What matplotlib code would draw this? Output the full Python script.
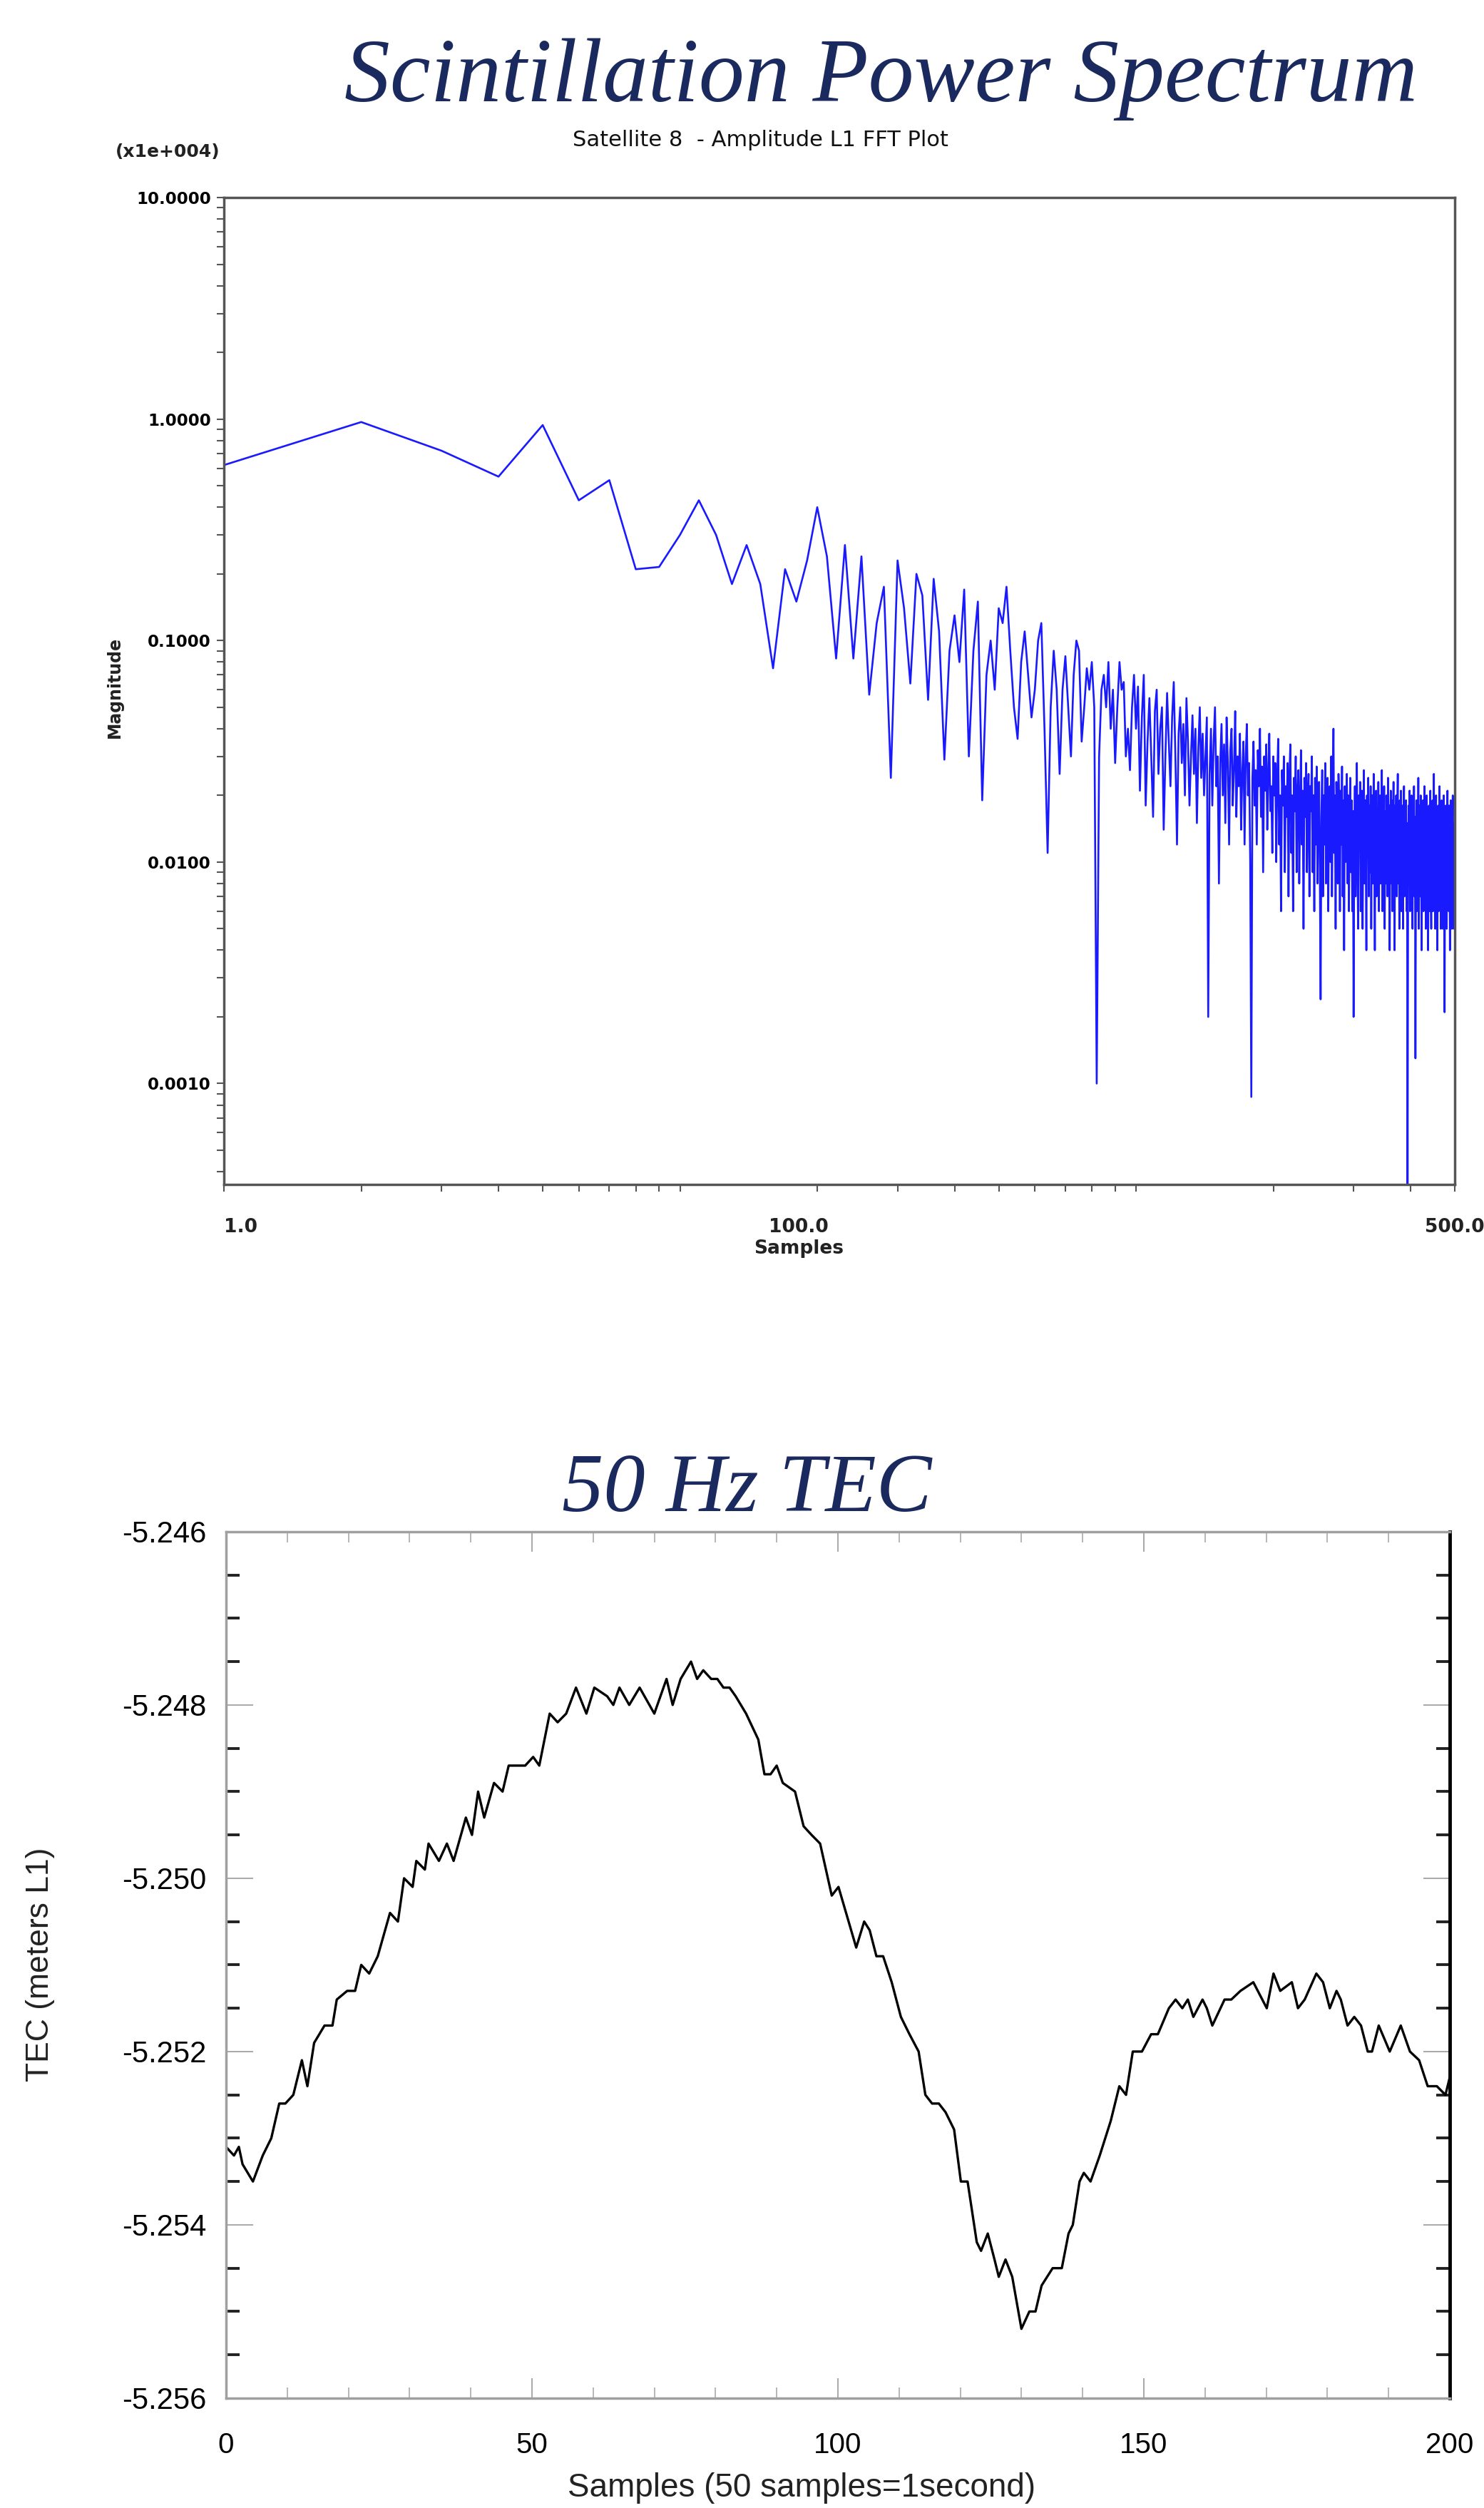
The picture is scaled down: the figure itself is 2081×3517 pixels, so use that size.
import numpy as np
import matplotlib
matplotlib.use('Agg')
import matplotlib.pyplot as plt
from matplotlib.ticker import FixedLocator, FixedFormatter, LogLocator, NullFormatter, MultipleLocator

plt.rcParams['axes.unicode_minus'] = False
plt.rcParams['font.family'] = ['DejaVu Sans']

# ---- FFT spectrum (top) ----
spec_dc = 10.0
spec_bins = np.arange(1, 501)
spec_mag = [
    0.62, 0.97, 0.72, 0.55, 0.94, 0.43, 0.53, 0.21, 0.215, 0.30,
    0.43, 0.30, 0.18, 0.27, 0.18, 0.075, 0.21, 0.15, 0.23, 0.40,
    0.24, 0.083, 0.27, 0.083, 0.24, 0.057, 0.12, 0.175, 0.024, 0.23,
    0.14, 0.064, 0.20, 0.16, 0.054, 0.19, 0.11, 0.029, 0.09, 0.13,
    0.08, 0.17, 0.03, 0.09, 0.15, 0.019, 0.07, 0.10, 0.06, 0.14,
    0.12, 0.175, 0.09, 0.05, 0.036, 0.08, 0.11, 0.07, 0.045, 0.06,
    0.10, 0.12, 0.04, 0.011, 0.05, 0.09, 0.06, 0.025, 0.06, 0.085,
    0.05, 0.03, 0.07, 0.10, 0.09, 0.035, 0.05, 0.075, 0.06, 0.08,
    0.05, 0.001, 0.03, 0.06, 0.07, 0.05, 0.08, 0.04, 0.06, 0.028,
    0.05, 0.08, 0.06, 0.065, 0.03, 0.04, 0.026, 0.05, 0.07, 0.04,
    0.062, 0.021, 0.045, 0.07, 0.018, 0.035, 0.055, 0.03, 0.016, 0.048,
    0.06, 0.025, 0.04, 0.05, 0.014, 0.03, 0.058, 0.035, 0.022, 0.045,
    0.065, 0.03, 0.012, 0.038, 0.05, 0.028, 0.042, 0.02, 0.055, 0.035,
    0.018, 0.03, 0.046, 0.025, 0.04, 0.015, 0.033, 0.05, 0.024, 0.038,
    0.02, 0.03, 0.045, 0.002, 0.025, 0.04, 0.018, 0.035, 0.05, 0.022,
    0.03, 0.008, 0.028, 0.042, 0.02, 0.034, 0.015, 0.045, 0.028, 0.012,
    0.032, 0.04, 0.018, 0.026, 0.048, 0.016, 0.03, 0.022, 0.038, 0.014,
    0.025, 0.035, 0.012, 0.03, 0.042, 0.02, 0.028, 0.01, 0.00087, 0.024,
    0.035, 0.018, 0.026, 0.012, 0.032, 0.022, 0.04, 0.016, 0.027, 0.009,
    0.03, 0.021, 0.034, 0.014, 0.025, 0.038, 0.017, 0.022, 0.011, 0.03,
    0.02, 0.028, 0.01, 0.024, 0.036, 0.012, 0.02, 0.006, 0.026, 0.018,
    0.03, 0.009, 0.022, 0.016, 0.028, 0.007, 0.025, 0.034, 0.011, 0.02,
    0.006, 0.024, 0.017, 0.03, 0.009, 0.02, 0.026, 0.008, 0.018, 0.032,
    0.012, 0.021, 0.005, 0.024, 0.016, 0.028, 0.009, 0.019, 0.025, 0.007,
    0.022, 0.017, 0.03, 0.009, 0.02, 0.006, 0.024, 0.012, 0.027, 0.008,
    0.019, 0.023, 0.009, 0.0024, 0.016, 0.026, 0.007, 0.02, 0.012, 0.028,
    0.008, 0.018, 0.024, 0.006, 0.017, 0.022, 0.01, 0.03, 0.007, 0.019,
    0.04, 0.011, 0.02, 0.005, 0.023, 0.016, 0.008, 0.025, 0.018, 0.006,
    0.021, 0.012, 0.027, 0.007, 0.019, 0.004, 0.022, 0.01, 0.018, 0.025,
    0.008, 0.02, 0.006, 0.016, 0.024, 0.009, 0.019, 0.006, 0.017, 0.002,
    0.012, 0.022, 0.007, 0.018, 0.028, 0.009, 0.005, 0.02, 0.012, 0.023,
    0.006, 0.017, 0.021, 0.005, 0.015, 0.026, 0.008, 0.019, 0.011, 0.004,
    0.02, 0.012, 0.024, 0.007, 0.018, 0.009, 0.022, 0.005, 0.016, 0.02,
    0.008, 0.025, 0.011, 0.004, 0.018, 0.021, 0.007, 0.017, 0.009, 0.023,
    0.006, 0.016, 0.02, 0.008, 0.015, 0.026, 0.006, 0.018, 0.01, 0.022,
    0.005, 0.017, 0.008, 0.02, 0.012, 0.007, 0.024, 0.009, 0.018, 0.004,
    0.016, 0.021, 0.008, 0.019, 0.006, 0.015, 0.023, 0.009, 0.004, 0.018,
    0.011, 0.02, 0.007, 0.017, 0.025, 0.008, 0.016, 0.005, 0.019, 0.01,
    0.021, 0.006, 0.015, 0.018, 0.005, 0.016, 0.022, 0.007, 0.017, 0.009,
    0.019, 0.006, 0.015, 0.0003, 0.008, 0.018, 0.01, 0.021, 0.006, 0.016,
    0.008, 0.02, 0.012, 0.005, 0.017, 0.009, 0.022, 0.007, 0.016, 0.0013,
    0.01, 0.019, 0.006, 0.016, 0.008, 0.024, 0.005, 0.015, 0.018, 0.007,
    0.02, 0.009, 0.004, 0.016, 0.008, 0.019, 0.006, 0.015, 0.022, 0.008,
    0.017, 0.005, 0.014, 0.02, 0.007, 0.016, 0.004, 0.013, 0.018, 0.006,
    0.015, 0.021, 0.008, 0.005, 0.016, 0.009, 0.019, 0.006, 0.014, 0.025,
    0.007, 0.017, 0.005, 0.013, 0.02, 0.008, 0.016, 0.004, 0.014, 0.018,
    0.006, 0.015, 0.022, 0.008, 0.017, 0.005, 0.013, 0.019, 0.007, 0.016,
    0.005, 0.014, 0.02, 0.008, 0.0021, 0.015, 0.007, 0.018, 0.009, 0.005,
    0.016, 0.021, 0.008, 0.015, 0.006, 0.018, 0.009, 0.004, 0.014, 0.019,
    0.007, 0.016, 0.005, 0.013, 0.02, 0.008, 0.015, 0.005, 0.014, 0.008,
]
spec_ytick_vals = [10, 1, 0.1, 0.01, 0.001]
spec_ytick_labels = ['10.0000', '1.0000', '0.1000', '0.0100', '0.0010']

# ---- 50 Hz TEC (bottom) ----
tec_samples = [
    0.0, 1.3, 2.1, 2.7, 4.4, 6.0, 7.4, 8.7, 9.7, 11.0,
    12.4, 13.3, 14.4, 16.1, 17.4, 18.1, 19.8, 21.1, 22.1, 23.4,
    24.8, 26.8, 28.1, 29.1, 30.5, 31.1, 32.5, 33.1, 34.8, 36.1,
    37.2, 39.2, 40.2, 41.2, 42.2, 43.8, 45.2, 46.2, 48.9, 50.2,
    51.2, 52.9, 54.2, 55.6, 57.2, 58.9, 60.2, 62.3, 63.3, 64.3,
    65.9, 67.6, 70.0, 72.0, 73.0, 74.3, 76.0, 77.0, 78.0, 79.3,
    80.3, 81.3, 82.3, 83.3, 85.0, 87.0, 88.0, 89.0, 90.0, 91.0,
    93.0, 94.4, 95.7, 97.1, 99.0, 100.1, 103.0, 104.3, 105.2, 106.3,
    107.4, 108.8, 110.3, 111.7, 113.2, 114.3, 115.4, 116.5, 117.6, 119.0,
    120.1, 121.2, 122.7, 123.4, 124.5, 125.6, 126.3, 127.4, 128.5, 130.0,
    131.3, 132.3, 133.3, 135.1, 136.6, 137.7, 138.4, 139.5, 140.2, 141.3,
    142.8, 144.6, 146.0, 147.1, 148.2, 149.7, 151.2, 152.3, 154.1, 155.2,
    156.3, 157.2, 158.1, 159.6, 160.3, 161.2, 163.2, 164.3, 165.8, 167.9,
    170.1, 171.2, 172.3, 174.2, 175.2, 176.3, 178.2, 179.3, 180.4, 181.5,
    182.2, 183.3, 184.4, 185.5, 186.6, 187.3, 188.4, 190.2, 192.0, 193.5,
    195.0, 196.4, 197.9, 199.3, 200.0,
]
tec_values = [
    -5.2531, -5.2532, -5.2531, -5.2533, -5.2535, -5.2532, -5.2530, -5.2526, -5.2526, -5.2525,
    -5.2521, -5.2524, -5.2519, -5.2517, -5.2517, -5.2514, -5.2513, -5.2513, -5.2510, -5.2511,
    -5.2509, -5.2504, -5.2505, -5.2500, -5.2501, -5.2498, -5.2499, -5.2496, -5.2498, -5.2496,
    -5.2498, -5.2493, -5.2495, -5.2490, -5.2493, -5.2489, -5.2490, -5.2487, -5.2487, -5.2486,
    -5.2487, -5.2481, -5.2482, -5.2481, -5.2478, -5.2481, -5.2478, -5.2479, -5.2480, -5.2478,
    -5.2480, -5.2478, -5.2481, -5.2477, -5.2480, -5.2477, -5.2475, -5.2477, -5.2476, -5.2477,
    -5.2477, -5.2478, -5.2478, -5.2479, -5.2481, -5.2484, -5.2488, -5.2488, -5.2487, -5.2489,
    -5.2490, -5.2494, -5.2495, -5.2496, -5.2502, -5.2501, -5.2508, -5.2505, -5.2506, -5.2509,
    -5.2509, -5.2512, -5.2516, -5.2518, -5.2520, -5.2525, -5.2526, -5.2526, -5.2527, -5.2529,
    -5.2535, -5.2535, -5.2542, -5.2543, -5.2541, -5.2544, -5.2546, -5.2544, -5.2546, -5.2552,
    -5.2550, -5.2550, -5.2547, -5.2545, -5.2545, -5.2541, -5.2540, -5.2535, -5.2534, -5.2535,
    -5.2532, -5.2528, -5.2524, -5.2525, -5.2520, -5.2520, -5.2518, -5.2518, -5.2515, -5.2514,
    -5.2515, -5.2514, -5.2516, -5.2514, -5.2515, -5.2517, -5.2514, -5.2514, -5.2513, -5.2512,
    -5.2515, -5.2511, -5.2513, -5.2512, -5.2515, -5.2514, -5.2511, -5.2512, -5.2515, -5.2513,
    -5.2514, -5.2517, -5.2516, -5.2517, -5.2520, -5.2520, -5.2517, -5.2520, -5.2517, -5.2520,
    -5.2521, -5.2524, -5.2524, -5.2525, -5.2523,
]
tec_yticks = [-5.246, -5.248, -5.250, -5.252, -5.254, -5.256]
tec_xticks = [0, 50, 100, 150, 200]

title_color = '#1b2a5e'
title_font = ['Liberation Serif', 'DejaVu Serif']
arial = ['Liberation Sans', 'DejaVu Sans']

fig = plt.figure(figsize=(20.81, 35.17), dpi=100)

# ---------------- top panel ----------------
ax1 = fig.add_axes([0.1509, 0.5277, 0.8294, 0.3935])
x_spec = np.concatenate([[1.0], spec_bins])
y_spec = np.concatenate([[spec_dc], spec_mag])
ax1.plot(x_spec, y_spec, color='#1a1aff', lw=1.9)
ax1.set_xscale('log')
ax1.set_yscale('log')
ax1.set_xlim(1, 500)
ax1.set_ylim(3.5e-4, 10)
for sp in ax1.spines.values():
    sp.set_color('#555555')
    sp.set_linewidth(2.5)

ax1.yaxis.set_major_locator(FixedLocator(spec_ytick_vals))
ax1.yaxis.set_major_formatter(FixedFormatter(spec_ytick_labels))
ax1.yaxis.set_minor_locator(LogLocator(base=10, subs=range(2, 10)))
ax1.yaxis.set_minor_formatter(NullFormatter())
ax1.xaxis.set_major_locator(LogLocator(base=10, subs=(1.0,)))
ax1.xaxis.set_minor_locator(LogLocator(base=10, subs=range(2, 10)))
ax1.xaxis.set_major_formatter(NullFormatter())
ax1.xaxis.set_minor_formatter(NullFormatter())
ax1.tick_params(axis='both', which='both', direction='out', length=7, width=1.5,
                color='#555555', labelsize=16.5, pad=6)
for lab in ax1.get_yticklabels():
    lab.set_fontweight('bold')

xlab = dict(fontsize=19, fontweight='bold', color='#222222')
ax1.text(0.0, -0.043, '1.0', transform=ax1.transAxes, ha='left', va='center', **xlab)
ax1.text(0.467, -0.043, '100.0', transform=ax1.transAxes, ha='center', va='center', **xlab)
ax1.text(1.0, -0.043, '500.0', transform=ax1.transAxes, ha='center', va='center', **xlab)
ax1.text(0.467, -0.065, 'Samples', transform=ax1.transAxes, ha='center', va='center', **xlab)
ax1.text(-0.0886, 0.5036, 'Magnitude', transform=ax1.transAxes, ha='center', va='center',
         rotation=90, fontsize=17, fontweight='bold', color='#222222')
ax1.text(-0.0458, 1.046, '(x1e+004)', transform=ax1.transAxes, ha='center', va='center',
         fontsize=18, fontweight='bold', color='#222222')

fig.text(0.5127, 0.944, 'Satellite 8  - Amplitude L1 FFT Plot', ha='center', va='center',
         fontsize=22, color='#111111')
fig.text(0.5935, 0.9597, 'Scintillation Power Spectrum', ha='center', va='baseline',
         fontsize=92, style='italic', family=title_font, color=title_color)

# ---------------- bottom panel ----------------
ax2 = fig.add_axes([0.1523, 0.0438, 0.8246, 0.3455])
ax2.plot(tec_samples, tec_values, color='black', lw=2.4)
ax2.set_xlim(0, 200)
ax2.set_ylim(-5.256, -5.246)
for name, sp in ax2.spines.items():
    sp.set_color('#a0a0a0')
    sp.set_linewidth(2.5)
ax2.spines['right'].set_color('black')
ax2.spines['right'].set_linewidth(3.5)

ax2.set_yticks(tec_yticks)
ax2.set_yticklabels([f'{v:.3f}' for v in tec_yticks], family=arial)
ax2.set_xticks(tec_xticks)
ax2.set_xticklabels([str(v) for v in tec_xticks], family=arial)
ax2.yaxis.set_minor_locator(MultipleLocator(0.0005))
ax2.xaxis.set_minor_locator(MultipleLocator(10))
ax2.tick_params(axis='y', which='major', direction='in', length=27, width=1.2,
                color='#999999', labelsize=30, pad=20, left=True, right=True)
ax2.tick_params(axis='y', which='minor', direction='in', length=14, width=2.8,
                color='#222222', left=True, right=True)
ax2.tick_params(axis='x', which='major', direction='in', length=20, width=1.2,
                color='#999999', labelsize=29, pad=34, top=True, bottom=True)
ax2.tick_params(axis='x', which='minor', direction='in', length=11, width=1.2,
                color='#aaaaaa', top=True, bottom=True)

fig.text(1124 / 2081, 1 - 3489 / 3517, 'Samples (50 samples=1second)', ha='center', va='center',
         fontsize=33, family=arial, color='#222222')
fig.text(57 / 2081, 1 - 2755 / 3517, 'TEC (meters L1)', ha='center', va='center',
         rotation=90, fontsize=32, family=arial, color='#222222')
fig.text(1047 / 2081, 1 - 2119 / 3517, '50 Hz TEC', ha='center', va='baseline',
         fontsize=84, style='italic', family=title_font, color=title_color)

fig.savefig('out.png', dpi=100, facecolor='white')
